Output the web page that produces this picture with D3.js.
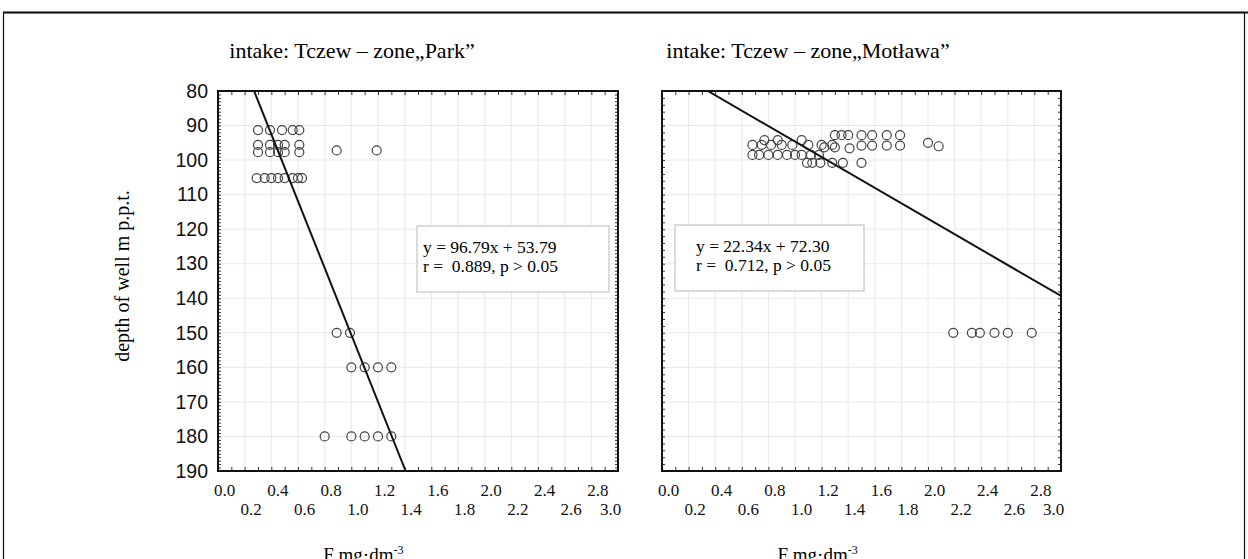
<!DOCTYPE html>
<html>
<head>
<meta charset="utf-8">
<script src="https://cdn.jsdelivr.net/npm/d3@7"></script>
<style>
  body { margin: 0; background: #fff; }
  svg { display: block; }
</style>
</head>
<body>
<svg id="chart" width="1248" height="559"></svg>
<script>
// panel titles
var titles = ["intake: Tczew \u2013 zone\u201EPark\u201D", "intake: Tczew \u2013 zone\u201EMot\u0142awa\u201D"];

// zone "Park": fluoride (F) vs depth of well
var parkF = [0.30, 0.39, 0.48, 0.56, 0.61,
  0.30, 0.39, 0.45, 0.50, 0.61,
  0.30, 0.39, 0.45, 0.50, 0.61, 0.89, 1.19,
  0.29, 0.35, 0.40, 0.45, 0.50, 0.56, 0.60, 0.63,
  0.89, 0.99,
  1.00, 1.10, 1.20, 1.30,
  0.80, 1.00, 1.10, 1.20, 1.30];
var parkDepth = [91.3, 91.3, 91.3, 91.3, 91.3,
  95.6, 95.6, 95.6, 95.6, 95.6,
  97.7, 97.7, 97.7, 97.7, 97.7, 97.2, 97.2,
  105.2, 105.2, 105.2, 105.2, 105.2, 105.2, 105.2, 105.2,
  150, 150,
  160, 160, 160, 160,
  180, 180, 180, 180, 180];

// zone "Motlawa": fluoride (F) vs depth of well
var motF = [0.68, 0.75, 0.82, 0.90, 0.98, 1.10, 1.20, 1.28,
  0.77, 0.87, 1.05,
  0.68, 0.73, 0.80, 0.87, 0.94, 1.00, 1.05, 1.12, 1.18,
  1.09, 1.13, 1.19, 1.28, 1.36, 1.50,
  1.30, 1.35, 1.40, 1.50, 1.58, 1.69, 1.79,
  1.22, 1.30, 1.41, 1.50, 1.58, 1.69, 1.79,
  2.00, 2.08,
  2.19, 2.33, 2.39, 2.50, 2.60, 2.78];
var motDepth = [95.6, 95.6, 95.6, 95.6, 95.6, 95.6, 95.6, 95.6,
  94.2, 94.2, 94.2,
  98.5, 98.5, 98.5, 98.5, 98.5, 98.5, 98.5, 98.5, 98.5,
  100.8, 100.8, 100.8, 100.8, 100.8, 100.8,
  92.8, 92.8, 92.8, 92.8, 92.8, 92.8, 92.8,
  96.3, 96.3, 96.6, 95.8, 95.8, 95.8, 95.8,
  95.0, 96.0,
  150, 150, 150, 150, 150, 150];

// regression fits
var fitSlope = [96.79, 22.34];
var fitIntercept = [53.79, 72.30];
var eqLines = [
  ["y = 96.79x + 53.79", "r =  0.889, p > 0.05"],
  ["y = 22.34x + 72.30", "r =  0.712, p > 0.05"]
];

// tick labels
var xTicksUpper = [0.0, 0.4, 0.8, 1.2, 1.6, 2.0, 2.4, 2.8];
var xTicksLower = [0.2, 0.6, 1.0, 1.4, 1.8, 2.2, 2.6, 3.0];
var yTicks = [80, 90, 100, 110, 120, 130, 140, 150, 160, 170, 180, 190];

var serif = "'Liberation Serif', 'Times New Roman', serif";
var sans = "'Liberation Sans', Arial, sans-serif";

var svg = d3.select("#chart");

// outer frame
svg.append("rect")
  .attr("x", 3.5).attr("y", 12.5)
  .attr("width", 1241).attr("height", 560)
  .attr("fill", "none")
  .attr("stroke", "#111")
  .attr("stroke-width", 1.2);
svg.append("line")
  .attr("x1", 3).attr("x2", 1248).attr("y1", 12.5).attr("y2", 12.5)
  .attr("stroke", "#111").attr("stroke-width", 2);

var plotH = 380, plotTop = 91;

var panels = [
  {left: 218, width: 400, fx: parkF, fy: parkDepth, box: {x: 417, y: 226, w: 192, h: 66},
    yLabels: true, titleX: 352, xTitleAt: 1.09},
  {left: 662, width: 399, fx: motF, fy: motDepth, box: {x: 675, y: 225, w: 189, h: 66},
    yLabels: false, titleX: 808, xTitleAt: 1.17}
];

panels.forEach(function(p, i) {
  var g = svg.append("g").attr("transform", "translate(" + p.left + "," + plotTop + ")");

  var x = d3.scaleLinear().domain([0, 3]).range([0, p.width]);
  var y = d3.scaleLinear().domain([80, 190]).range([0, plotH]);

  var clipId = "clip" + i;
  g.append("clipPath").attr("id", clipId)
    .append("rect").attr("width", p.width).attr("height", plotH);

  // grid
  g.append("g").selectAll("line").data(d3.range(0.2, 3, 0.2)).join("line")
    .attr("x1", function(d) { return x(d); }).attr("x2", function(d) { return x(d); })
    .attr("y1", 0).attr("y2", plotH)
    .attr("stroke", "#e8e8e8");
  g.append("g").selectAll("line").data(d3.range(90, 190, 10)).join("line")
    .attr("y1", function(d) { return y(d); }).attr("y2", function(d) { return y(d); })
    .attr("x1", 0).attr("x2", p.width)
    .attr("stroke", "#e8e8e8");

  // inward minor ticks on all four sides
  var step = p.yLabels ? 1 : 2;
  var minorY = d3.range(80, 190.1, step);
  var minorX = d3.range(0, 3.01, 0.1);
  g.append("g").call(d3.axisLeft(y).tickValues(minorY).tickSize(-3).tickFormat(""));
  g.append("g").attr("transform", "translate(" + p.width + ",0)")
    .call(d3.axisRight(y).tickValues(minorY).tickSize(-3).tickFormat(""));
  g.append("g").call(d3.axisTop(x).tickValues(minorX).tickSize(-4).tickFormat(""));
  g.append("g").attr("transform", "translate(0," + plotH + ")")
    .call(d3.axisBottom(x).tickValues(minorX).tickSize(-4).tickFormat(""));
  g.selectAll(".tick line").attr("stroke", "#333");
  g.selectAll(".domain").remove();

  // frame of the plot
  g.append("rect").attr("width", p.width).attr("height", plotH)
    .attr("fill", "none").attr("stroke", "#111").attr("stroke-width", 2);

  // points
  var pts = p.fx.map(function(v, k) { return [v, p.fy[k]]; });
  g.append("g").selectAll("circle").data(pts).join("circle")
    .attr("cx", function(d) { return x(d[0]); })
    .attr("cy", function(d) { return y(d[1]); })
    .attr("r", 4.5)
    .attr("fill", "none")
    .attr("stroke", "#444")
    .attr("stroke-width", 1.2);

  // regression line, x from depth
  var a = fitSlope[i], b = fitIntercept[i];
  var ends = [80, 190].map(function(d) { return [(d - b) / a, d]; });
  var line = d3.line()
    .x(function(d) { return x(d[0]); })
    .y(function(d) { return y(d[1]); });
  g.append("path").datum(ends)
    .attr("d", line)
    .attr("clip-path", "url(#" + clipId + ")")
    .attr("fill", "none")
    .attr("stroke", "#111")
    .attr("stroke-width", 2);

  // equation box
  svg.append("rect")
    .attr("x", p.box.x).attr("y", p.box.y)
    .attr("width", p.box.w).attr("height", p.box.h)
    .attr("fill", "#fff").attr("stroke", "#d0d0d0").attr("stroke-width", 1.5);
  eqLines[i].forEach(function(t, k) {
    svg.append("text")
      .attr("x", p.box.x + (i === 0 ? 6 : 21))
      .attr("y", p.box.y + 27 + k * 19)
      .attr("font-family", serif)
      .attr("font-size", 17.5)
      .style("white-space", "pre")
      .text(t);
  });

  // x tick labels in two rows
  var rows = [[xTicksUpper, 405], [xTicksLower, 424]];
  rows.forEach(function(r) {
    var ax = g.append("g").attr("transform", "translate(0," + r[1] + ")")
      .call(d3.axisBottom(x).tickValues(r[0]).tickSize(0).tickPadding(0).tickFormat(d3.format(".1f")));
    ax.select(".domain").remove();
    ax.selectAll("text")
      .attr("font-family", serif)
      .attr("font-size", 17)
      .attr("fill", "#111")
      .attr("dy", 0)
      .attr("dx", function(d) { return d === 3 ? -8 : 6; });
  });

  // y tick labels
  if (p.yLabels) {
    var ay = g.append("g")
      .call(d3.axisLeft(y).tickValues(yTicks).tickSize(0).tickPadding(10));
    ay.select(".domain").remove();
    ay.selectAll("text")
      .attr("font-family", sans)
      .attr("font-size", 19.5)
      .attr("fill", "#111");
  }

  // title
  svg.append("text")
    .attr("x", p.titleX)
    .attr("y", 58)
    .attr("text-anchor", "middle")
    .attr("font-family", serif)
    .attr("font-size", 22)
    .text(titles[i]);

  // x axis title
  var xt = svg.append("text")
    .attr("x", p.left + x(p.xTitleAt))
    .attr("y", 561)
    .attr("text-anchor", "middle")
    .attr("font-family", serif)
    .attr("font-size", 19);
  xt.append("tspan").text("F mg\u00B7dm");
  xt.append("tspan").attr("dy", -7).attr("font-size", 12).text("-3");
});

// y axis title
svg.append("text")
  .attr("transform", "translate(129,276) rotate(-90)")
  .attr("text-anchor", "middle")
  .attr("font-family", serif)
  .attr("font-size", 20)
  .text("depth of well m p.p.t.");
</script>
</body>
</html>
